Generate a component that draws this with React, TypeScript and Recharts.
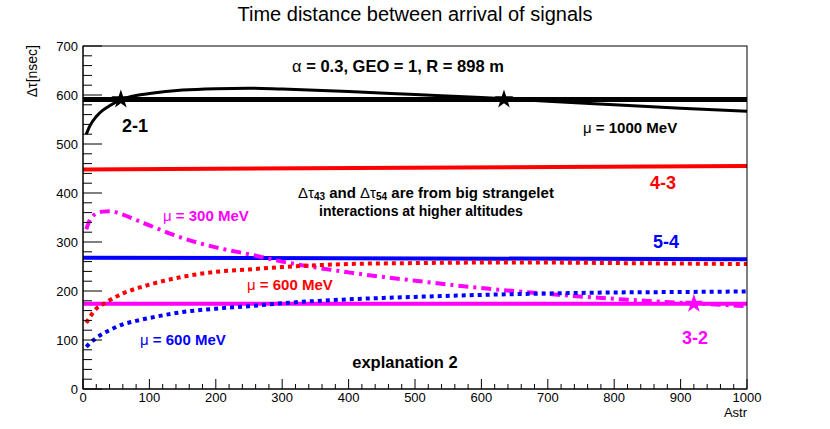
import { ComposedChart, Line, Scatter, XAxis, YAxis, ZAxis } from 'recharts'

// Astr sampling for the curved series
const ASTR = [5, 10, 20, 30, 40, 60, 80, 100, 150, 200, 250, 300, 400, 500, 600, 700, 800, 900, 1000]
const MU1000_21 = [520, 536, 556, 569, 578, 592, 599, 603, 610, 613, 614, 612, 607, 601, 595, 587, 580, 573, 567]
const MU300_32 = [326, 344, 358, 362, 363, 356, 345, 334, 308, 289, 275, 260, 238, 221, 206, 194, 184, 176, 169]
const MU600_43 = [135, 146, 164, 173, 181, 195, 205, 213, 229, 239, 244, 249, 255, 257, 258, 258, 257, 256, 255]
const MU600_54 = [86, 93, 104, 113, 120, 132, 139, 145, 157, 164, 169, 175, 183, 188, 192, 195, 197, 198, 199]

// nearly constant reference lines
const FLAT_X = [0, 1000]
const FLAT_21 = [591, 591]
const FLAT_43 = [448, 455]
const FLAT_54 = [268, 265]
const FLAT_32 = [174, 174]

// star markers
const STAR_21_X = [57, 634]
const STAR_21_Y = [591, 591]
const STAR_32_X = [920]
const STAR_32_Y = [174]

const Y_MAJOR = [0, 100, 200, 300, 400, 500, 600, 700]
const X_MAJOR = [0, 100, 200, 300, 400, 500, 600, 700, 800, 900, 1000]
const Y_TICKS = Array.from({ length: 36 }, (_, i) => i * 20)
const X_TICKS = Array.from({ length: 51 }, (_, i) => i * 20)

const zip = (xs: number[], ys: number[]) => xs.map((x, i) => ({ x, y: ys[i] }))

const FONT = '"Liberation Sans", Arial, Helvetica, sans-serif'
const TM = 4

const YTick = (props: any) => {
  const { x, y, payload } = props
  const major = Y_MAJOR.includes(payload.value)
  const ax = x + TM
  return (
    <g>
      <line x1={ax} x2={ax + (major ? 19 : 9)} y1={y} y2={y} stroke="#000" strokeWidth={1} />
      {major && (
        <text x={ax - 5} y={y + 4.5} textAnchor="end" fontSize={13} fontFamily={FONT} fill="#000">
          {payload.value}
        </text>
      )}
    </g>
  )
}

const XTick = (props: any) => {
  const { x, y, payload } = props
  const major = X_MAJOR.includes(payload.value)
  const ay = y - TM
  return (
    <g>
      <line x1={x} x2={x} y1={ay} y2={ay - (major ? 10 : 5)} stroke="#000" strokeWidth={1} />
      {major && (
        <text x={x} y={ay + 13} textAnchor="middle" fontSize={13} fontFamily={FONT} fill="#000">
          {payload.value}
        </text>
      )}
    </g>
  )
}

const B = { fontFamily: FONT, fontWeight: 700 } as const
const SYM = { fontWeight: 400 } as const

export default function App() {
  return (
    <div style={{ position: 'absolute', left: 0, top: 0, width: 830, height: 429, background: '#fff' }}>
      <div style={{ position: 'absolute', left: 0, top: 0 }}>
        <ComposedChart width={830} height={429} margin={{ top: 46, right: 83, bottom: 0, left: 0 }}>
          <XAxis
            dataKey="x"
            type="number"
            domain={[0, 1000]}
            ticks={X_TICKS}
            interval={0}
            tickSize={0}
            tickMargin={TM}
            tick={<XTick />}
            height={40}
            axisLine={{ stroke: '#000' }}
            allowDuplicatedCategory={false}
          />
          <YAxis
            type="number"
            domain={[0, 700]}
            ticks={Y_TICKS}
            interval={0}
            tickSize={0}
            tickMargin={TM}
            tick={<YTick />}
            width={83}
            axisLine={{ stroke: '#000' }}
          />
          <ZAxis type="number" range={[110, 110]} />

          <Line data={zip(FLAT_X, FLAT_21)} dataKey="y" stroke="#000" strokeWidth={5} dot={false} isAnimationActive={false} />
          <Line data={zip(FLAT_X, FLAT_43)} dataKey="y" stroke="#ff0000" strokeWidth={4} dot={false} isAnimationActive={false} />
          <Line data={zip(FLAT_X, FLAT_54)} dataKey="y" stroke="#0000ff" strokeWidth={4} dot={false} isAnimationActive={false} />
          <Line data={zip(FLAT_X, FLAT_32)} dataKey="y" stroke="#ff00ff" strokeWidth={4} dot={false} isAnimationActive={false} />

          <Line data={zip(ASTR, MU1000_21)} type="monotone" dataKey="y" stroke="#000" strokeWidth={3} dot={false} isAnimationActive={false} />
          <Line data={zip(ASTR, MU300_32)} type="monotone" dataKey="y" stroke="#ff00ff" strokeWidth={4} strokeDasharray="10 5 3 5" dot={false} isAnimationActive={false} />
          <Line data={zip(ASTR, MU600_43)} type="monotone" dataKey="y" stroke="#ff0000" strokeWidth={4} strokeDasharray="4 4" dot={false} isAnimationActive={false} />
          <Line data={zip(ASTR, MU600_54)} type="monotone" dataKey="y" stroke="#0000ff" strokeWidth={4} strokeDasharray="4 4" dot={false} isAnimationActive={false} />

          <Scatter data={zip(STAR_21_X, STAR_21_Y)} dataKey="y" shape="star" fill="#000" isAnimationActive={false} />
          <Scatter data={zip(STAR_32_X, STAR_32_Y)} dataKey="y" shape="star" fill="#ff00ff" isAnimationActive={false} />
        </ComposedChart>
      </div>

      <svg width={830} height={429} style={{ position: 'absolute', left: 0, top: 0, pointerEvents: 'none' }}>
        <rect x={83} y={46} width={664} height={343} fill="none" stroke="#000" strokeWidth={1} />
        <text x={415} y={21} textAnchor="middle" fontSize={20} fontFamily={FONT} fill="#000">
          Time distance between arrival of signals
        </text>
        <text x={747} y={417} textAnchor="end" fontSize={13} fontFamily={FONT} fill="#000">Astr</text>
        <text transform="translate(37,45) rotate(-90)" textAnchor="end" fontSize={14} fontFamily={FONT} fill="#000">
          Δτ[nsec]
        </text>

        <text x={398} y={72} textAnchor="middle" fontSize={16.5} {...B} fill="#000">
          <tspan {...SYM}>α</tspan> = 0.3, GEO = 1, R = 898 m
        </text>
        <text x={122} y={132} fontSize={18} {...B} fill="#000">2-1</text>
        <text x={583} y={132.5} fontSize={15} {...B} fill="#000">
          <tspan {...SYM}>μ</tspan> = 1000 MeV
        </text>
        <text x={650} y={188.5} fontSize={18} {...B} fill="#ff0000">4-3</text>
        <text x={298} y={197.5} fontSize={15} {...B} fill="#000">
          <tspan {...SYM}>Δτ</tspan>
          <tspan dy={2} fontSize={10}>43</tspan>
          <tspan dy={-2}> and  </tspan>
          <tspan {...SYM}>Δτ</tspan>
          <tspan dy={2} fontSize={10}>54</tspan>
          <tspan dy={-2}> are from big strangelet</tspan>
        </text>
        <text x={421} y={215.5} textAnchor="middle" fontSize={14} {...B} fill="#000">
          interactions at higher altitudes
        </text>
        <text x={163} y={221} fontSize={15} {...B} fill="#ff00ff">
          <tspan {...SYM}>μ</tspan> = 300 MeV
        </text>
        <text x={653} y={247.5} fontSize={18} {...B} fill="#0000ff">5-4</text>
        <text x={247} y={290} fontSize={15} {...B} fill="#ff0000">
          <tspan {...SYM}>μ</tspan> = 600 MeV
        </text>
        <text x={140} y={345} fontSize={15} {...B} fill="#0000ff">
          <tspan {...SYM}>μ</tspan> = 600 MeV
        </text>
        <text x={682} y={344} fontSize={18} {...B} fill="#ff00ff">3-2</text>
        <text x={405} y={368} textAnchor="middle" fontSize={16.5} {...B} fill="#000">explanation 2</text>
      </svg>
    </div>
  )
}
